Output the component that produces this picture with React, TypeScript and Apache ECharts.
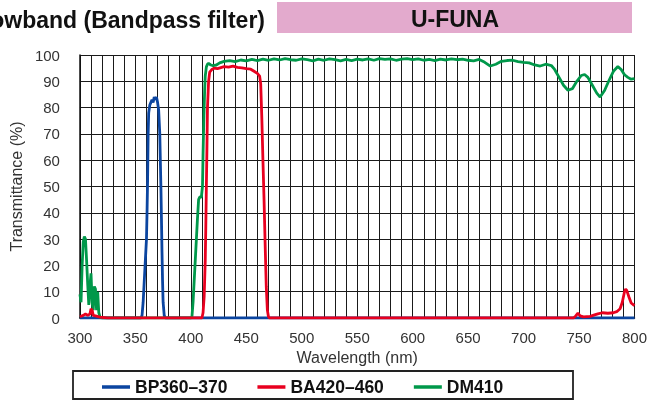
import { useEffect, useRef } from 'react';
import * as echarts from 'echarts';

const xTickStep = 10;
const yTicks = [0, 10, 20, 30, 40, 50, 60, 70, 80, 90, 100];
const seriesNames = ['BP360–370', 'BA420–460', 'DM410'];
const seriesColors = ['#0b45a0', '#e8001f', '#00984a'];

const bp360: [number, number][] = [
  [300, 0], [355, 0], [356, 1], [357, 6], [358, 14], [359, 22], [360, 30], [360.5, 40],
  [361, 52], [361.5, 70], [362, 78], [363, 81], [364, 82], [365, 83], [366, 82],
  [367, 84], [368, 83], [369, 84], [370, 82], [371, 79], [372, 70], [372.5, 60],
  [373, 50], [373.5, 38], [374, 25], [374.5, 14], [375, 6], [376, 1], [377, 0], [800, 0],
];

const ba420: [number, number][] = [
  [300, 0.5], [303, 1], [305, 1.5], [307, 1], [309, 1.5], [310, 3.5], [311, 3], [312, 1],
  [314, 0.8], [318, 0.3], [325, 0], [410, 0], [411, 2], [412, 8], [413, 22], [413.5, 35],
  [414, 50], [414.5, 64], [415, 80], [416, 90], [417, 93.5], [419, 94.5], [421, 95],
  [424, 94.8], [427, 95.2], [430, 95.6], [434, 95.4], [438, 95.8], [442, 95.3], [446, 95.1],
  [450, 94.8], [454, 94.6], [457, 93.8], [460, 93], [462, 92], [463, 89], [464, 76],
  [465, 60], [466, 45], [467, 28], [468, 12], [469, 3], [470, 0.5], [471, 0], [745, 0],
  [747, 0.8], [749, 1.8], [751, 0.8], [754, 0.4], [760, 0.6], [764, 1.2], [767, 1.6],
  [771, 2], [776, 1.8], [781, 2], [784, 2.4], [787, 3.5], [789, 6], [791, 10], [792, 11],
  [793, 10.5], [795, 8], [797, 5.7], [800, 4.7],
];

const dm410: [number, number][] = [
  [300, 9], [301, 6], [302, 20], [303, 29], [304, 31], [305, 30], [306, 22], [307, 13],
  [308, 5], [309, 12], [310, 17], [311, 6], [312, 3], [313, 12], [314, 11], [315, 3],
  [316, 10], [317, 2], [318, 0.5], [320, 0], [400, 0], [401, 0.5], [402, 6], [403, 14],
  [404, 22], [405, 30], [406, 38], [407, 45], [408, 46], [409.5, 46], [410.5, 50],
  [411, 62], [411.5, 72], [412, 80], [412.5, 87], [413, 92], [414, 95.5], [415, 96.5],
  [416, 96.8], [418, 96.2], [420, 96], [423, 96.2], [426, 97], [430, 97.6], [435, 97.9],
  [440, 97.5], [445, 98.1], [450, 97.8], [455, 98.3], [460, 97.9], [465, 98.4], [470, 98.0],
  [475, 98.5], [480, 98.1], [485, 98.6], [490, 98.2], [495, 98.0], [500, 98.5], [505, 98.2],
  [510, 97.8], [515, 98.4], [520, 98.0], [525, 98.5], [530, 98.2], [535, 97.8], [540, 98.3],
  [545, 97.9], [550, 98.4], [555, 98.1], [560, 98.5], [565, 98.0], [570, 98.6], [575, 98.3],
  [580, 98.5], [585, 98.0], [590, 98.4], [595, 98.6], [600, 98.2], [605, 98.5], [610, 98.0],
  [615, 98.3], [620, 97.9], [625, 98.4], [630, 98.1], [635, 98.5], [640, 98.2], [645, 98.4],
  [650, 98.0], [655, 97.8], [660, 98.3], [665, 97.2], [670, 95.8], [675, 96.5], [680, 97.6],
  [685, 97.9], [690, 98.0], [695, 97.5], [700, 97.2], [705, 97.0], [710, 96.2], [715, 95.8],
  [720, 96.5], [725, 96.0], [728, 94.5], [732, 91.5], [736, 88.5], [740, 86.6], [744, 87.2],
  [748, 90.0], [752, 92.2], [755, 92.6], [758, 91.5], [762, 88.5], [766, 85.5], [769, 84.0],
  [773, 86.5], [777, 90.3], [781, 93.8], [785, 95.6], [788, 94.5], [791, 92.5], [794, 91.5],
  [797, 90.8], [800, 91.0],
];

const titleText = 'Narrowband (Bandpass filter)';
const modelText = 'U-FUNA';

export default function App() {
  const ref = useRef<HTMLDivElement>(null);
  useEffect(() => {
    const chart = echarts.init(ref.current!, undefined, { renderer: 'svg' });
    const font = 'Liberation Sans';
    const mk = (name: string, data: [number, number][], color: string, z: number) => ({
      name,
      type: 'line',
      data,
      showSymbol: false,
      symbol: 'none',
      z,
      lineStyle: { color, width: 2.8 },
      itemStyle: { color },
    });
    chart.setOption({
      animation: false,
      textStyle: { fontFamily: font },
      grid: { left: 75, right: 15, top: 55, bottom: 82, containLabel: false },
      xAxis: {
        type: 'value',
        min: 300,
        max: 800,
        interval: xTickStep,
        name: 'Wavelength (nm)',
        nameLocation: 'middle',
        nameGap: 30,
        nameTextStyle: { fontSize: 16, color: '#333', fontFamily: font },
        axisLine: { show: true, lineStyle: { color: '#111', width: 1.5 } },
        axisTick: { show: false },
        axisLabel: {
          margin: 12,
          fontSize: 15,
          color: '#333',
          fontFamily: font,
          formatter: (v: number) => (v % 50 === 0 ? String(v) : ''),
        },
        splitLine: { show: true, lineStyle: { color: '#1a1a1a', width: 1 } },
      },
      yAxis: {
        type: 'value',
        min: yTicks[0],
        max: yTicks[yTicks.length - 1],
        interval: 10,
        name: 'Transmittance (%)',
        nameLocation: 'middle',
        nameGap: 51,
        nameTextStyle: { fontSize: 16, color: '#333', fontFamily: font },
        axisLine: { show: true, lineStyle: { color: '#111', width: 1.5 } },
        axisTick: { show: false },
        axisLabel: { margin: 20, fontSize: 15, color: '#333', fontFamily: font },
        splitLine: { show: true, lineStyle: { color: '#1a1a1a', width: 1 } },
      },
      legend: {
        left: 97,
        top: 373,
        itemWidth: 28,
        itemHeight: 3.5,
        itemGap: 30,
        icon: 'rect',
        textStyle: { fontSize: 17.5, fontWeight: 'bold', color: '#111', fontFamily: font },
        data: seriesNames,
      },
      graphic: [
        {
          type: 'rect',
          shape: { x: 73, y: 371, width: 500, height: 28 },
          style: { fill: 'none', stroke: '#222', lineWidth: 1.8 },
          z: 10,
        },
        {
          type: 'rect',
          shape: { x: 277, y: 2, width: 355, height: 31 },
          style: { fill: '#e3aacd' },
        },
        {
          type: 'text',
          x: 455,
          y: 19,
          style: {
            text: modelText,
            fill: '#111',
            font: `bold 23px "${font}"`,
            align: 'center',
            verticalAlign: 'middle',
          },
        },
        {
          type: 'text',
          x: 265,
          y: 20,
          style: {
            text: titleText,
            fill: '#111',
            font: `bold 23px "${font}"`,
            align: 'right',
            verticalAlign: 'middle',
          },
        },
      ],
      series: [
        mk(seriesNames[0], bp360, seriesColors[0], 2),
        mk(seriesNames[2], dm410, seriesColors[2], 3),
        mk(seriesNames[1], ba420, seriesColors[1], 4),
      ],
    });
    return () => chart.dispose();
  }, []);
  return <div ref={ref} style={{ position: 'fixed', left: 0, top: 0, width: 650, height: 400 }} />;
}
